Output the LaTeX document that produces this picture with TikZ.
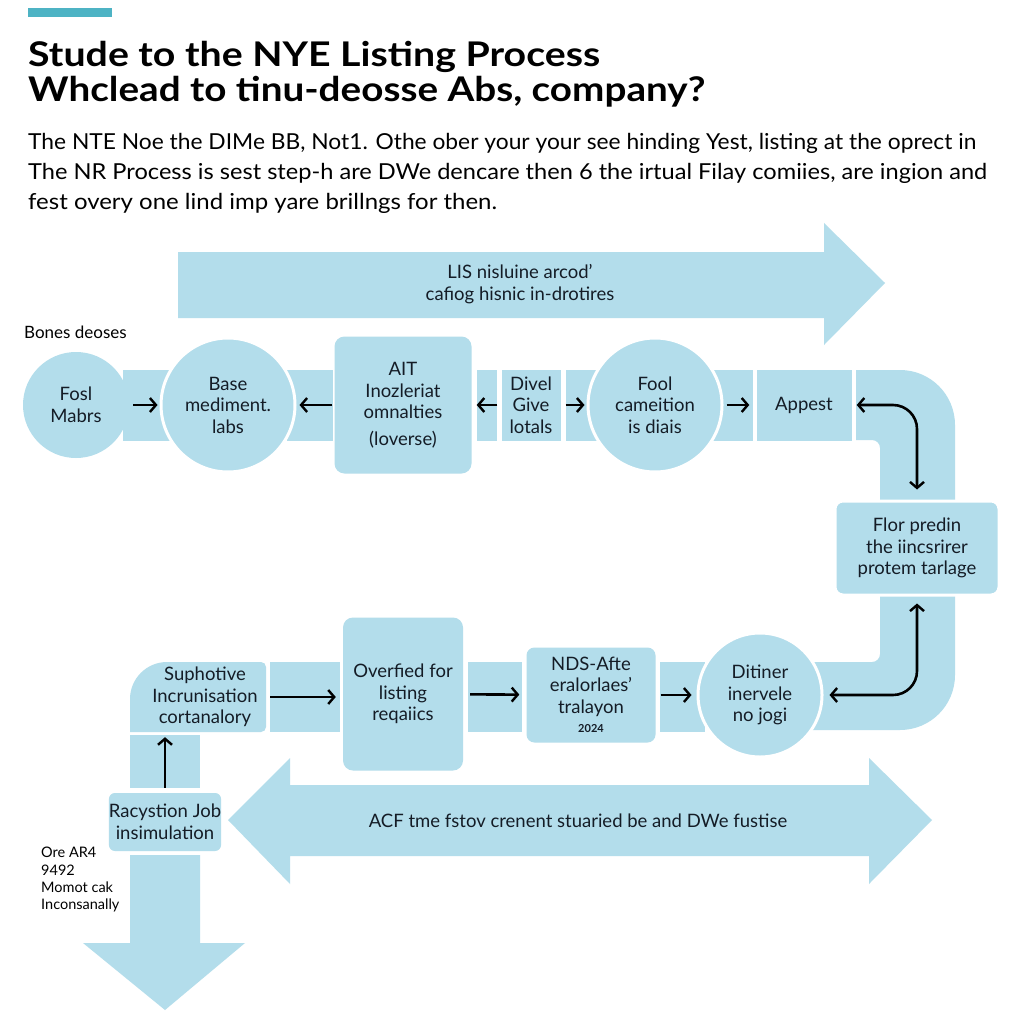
\documentclass[tikz,border=0pt]{standalone}
\usepackage{fontspec}
\usepackage{graphicx}
\setmainfont{Lato}
\usetikzlibrary{arrows.meta}
\definecolor{band}{HTML}{B3DDEB}
\definecolor{ink}{HTML}{141C26}
\definecolor{accent}{HTML}{4DB3C4}
\newcommand\fitbox[2]{\setbox0\hbox{#2}\pgfmathsetmacro\myfac{#1/\wd0}\scalebox{\myfac}[1]{\box0}}
\begin{document}
\begin{tikzpicture}[x=1pt,y=-1pt,
  lbl/.style={font=\fontsize{18.5}{21.5}\selectfont, text=ink, align=center},
  circ/.style={circle, fill=band, lbl, inner sep=0pt},
  ring/.style={circ, draw=white, line width=3pt},
  box/.style={rectangle, fill=band, lbl, inner sep=0pt, rounded corners=8pt},
  flat/.style={rectangle, fill=band, lbl, inner sep=0pt},
  wbox/.style={box, draw=white, line width=3pt},
  conn/.style={draw=black, line width=2.6pt, -{Straight Barb[length=6pt,width=14pt,line width=2.4pt]}},
  conn2/.style={draw=black, line width=2.6pt, {Straight Barb[length=6pt,width=14pt,line width=2.4pt]}-{Straight Barb[length=6pt,width=14pt,line width=2.4pt]}},
  head/.style={anchor=base west, text=black, inner sep=0pt},
  note/.style={text=black, inner sep=0pt, align=left}
]
\useasboundingbox[fill=white] (0,0) rectangle (1024,1024);

% accent bar
\fill[accent] (28,8) rectangle (112,17);

% heading
\node[head, font=\fontsize{34}{40}\selectfont\bfseries] (t1) at (28,67) {\fitbox{572}{Stude to the NYE Listing Process}};
\node[head, font=\fontsize{34}{40}\selectfont\bfseries] (t2) at (28,102) {\fitbox{677}{Whclead to tinu-deosse Abs, company?}};
\node[head, font=\fontsize{22}{26}\selectfont] (b1) at (28,150) {\fitbox{948}{The NTE Noe the DIMe BB, Not1. Othe ober your your see hinding Yest, listing at the oprect in}};
\node[head, font=\fontsize{22}{26}\selectfont] (b2) at (28,180) {\fitbox{959}{The NR Process is sest step-h are DWe dencare then 6 the irtual Filay comiies, are ingion and}};
\node[head, font=\fontsize{22}{26}\selectfont] (b3) at (28,210) {\fitbox{469}{fest overy one lind imp yare brillngs for then.}};

% top arrow
\fill[band] (178,252) -- (824,252) -- (824,223) -- (885,283) -- (824,345) -- (824,318) -- (178,318) -- cycle;
\node[lbl] (toptxt) at (520,284) {LIS nisluine arcod'\\cafiog hisnic in-drotires};

\node[note, anchor=base west, font=\fontsize{17}{20}\selectfont] (bones) at (24,338) {Bones deoses};

% row 1 band pieces
\fill[band] (123,370) rectangle (200,441);
\fill[band] (287,370) rectangle (333,441);
\fill[band] (477,370) rectangle (497,441);
\fill[band] (566,370) rectangle (610,441);
\fill[band] (712,370) rectangle (753,441);

% pipe
\fill[band] (856,370) -- (900,370) .. controls (930.4,370) and (955,394.6) .. (955,425)
  -- (955,675) .. controls (955,705.4) and (930.4,730) .. (900,730)
  -- (812,730) -- (812,662) -- (872,662) .. controls (876.4,662) and (880,658.4) .. (880,654)
  -- (880,448) .. controls (880,443.6) and (876.4,440) .. (872,440) -- (856,440) -- cycle;

% row 2 band pieces
\fill[band] (270,662) rectangle (340,732);
\fill[band] (468,662) rectangle (522,732);
\fill[band] (660,662) rectangle (705,732);
% left vertical
\fill[band] (130,735) rectangle (200,788);
\fill[band] (130,855) -- (200,855) -- (200,943) -- (245,943) -- (165,1010) -- (83,943) -- (130,943) -- cycle;
% suph shape
\fill[band] (130,732) -- (130,699) .. controls (130,678.6) and (146.6,662) .. (167,662) -- (261,662)
  .. controls (263.8,662) and (266,664.2) .. (266,667) -- (266,727) .. controls (266,729.8) and (263.8,732) .. (261,732) -- cycle;

% bottom double arrow
\fill[band] (228,820) -- (290,758) -- (290,785) -- (869,785) -- (869,758) -- (932,820) -- (869,884) -- (869,856) -- (290,856) -- (290,884) -- cycle;
\node[lbl] (bottxt) at (578,821) {ACF tme fstov crenent stuaried be and DWe fustise};

% row 1 nodes
\node[circ, minimum size=106pt] (fosl) at (76,405) {Fosl\\Mabrs};
\node[ring, minimum size=134pt] (base) at (228,405) {Base\\mediment.\\labs};
\node[box, minimum width=137pt, minimum height=137pt, rounded corners=10pt] (ait) at (403,405) {AIT\\Inozleriat\\omnalties\\[5pt](loverse)};
\node[flat, minimum width=59pt, minimum height=71pt] (divel) at (531,405) {Divel\\Give\\lotals};
\node[ring, minimum size=134pt] (fool) at (655,405) {Fool\\cameition\\is diais};
\node[flat, minimum width=95pt, minimum height=71pt] (appest) at (804,405) {Appest};
\node[wbox, minimum width=164pt, minimum height=94pt] (flor) at (917,548) {Flor predin\\the iincsrirer\\protem tarlage};

% row 2 nodes
\node[ring, minimum size=124pt] (ditiner) at (760,695) {Ditiner\\inervele\\no jogi};
\node[box, minimum width=129pt, minimum height=95pt] (nds) at (591,695) {NDS-Afte\\eralorlaes'\\tralayon\\[-2pt]{\fontsize{11}{13}\selectfont\bfseries 2024}};
\node[box, minimum width=120pt, minimum height=153pt, rounded corners=10pt] (over) at (403,694) {Overfied for\\listing\\reqaiics};
\node[lbl, minimum width=136pt, minimum height=70pt, inner sep=0pt] (suph) at (198,697) {\hspace*{14pt}Suphotive\\\hspace*{14pt}Incrunisation\\\hspace*{14pt}cortanalory};
\node[box, minimum width=112pt, minimum height=58pt, rounded corners=6pt] (racy) at (165,822) {Racystion Job\\insimulation};

\node[note, anchor=north west, font=\fontsize{14.5}{17.3}\selectfont] (side) at (41,847) {Ore AR4\\9492\\Momot cak\\Inconsanally};

% connectors row 1
\draw[conn, shorten <=4pt, shorten >=2pt] (fosl) -- (base);
\draw[conn, shorten <=2pt, shorten >=3pt] (ait) -- (base);
\draw[conn, shorten <=4pt, shorten >=5pt] (divel) -- (ait);
\draw[conn, shorten <=5pt, shorten >=2pt] (divel) -- (fool);
\draw[conn, shorten <=3pt, shorten >=7pt] (fool) -- (appest);
\draw[conn2, rounded corners=24pt] ([xshift=5pt]appest.east) -- (appest.east -| flor.north) -- ([yshift=10pt]flor.north);
\draw[conn2, rounded corners=24pt] ([yshift=-7pt]flor.south) -- (flor.south |- ditiner.east) -- ([xshift=6pt]ditiner.east);

% connectors row 2
\draw[conn, shorten <=4pt, shorten >=7pt] (suph.east) -- (suph.east -| over.west);
\draw[conn, shorten <=7pt, shorten >=7pt] (over) -- (nds);
\draw[conn, shorten <=5pt, shorten >=5pt] (nds) -- (ditiner);
\draw[conn, shorten <=5pt, shorten >=5pt] (racy.north) -- (racy.north |- suph.south);
\end{tikzpicture}
\end{document}
